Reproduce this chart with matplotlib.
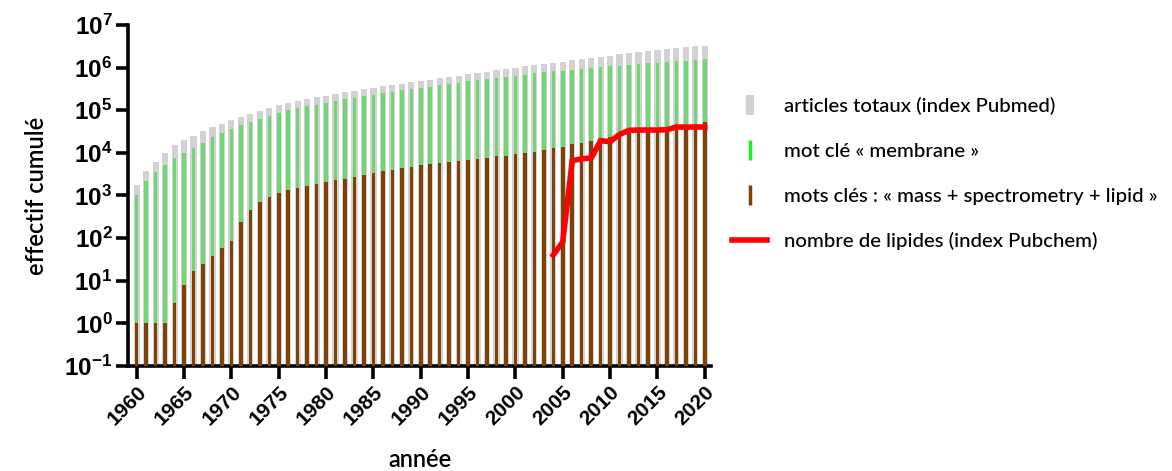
import matplotlib
matplotlib.use("Agg")
import matplotlib.pyplot as plt
from matplotlib.lines import Line2D
import numpy as np

years = list(range(1960, 2021))

total_pubmed = [1750, 3800, 6200, 9900, 15200, 20000, 24800, 32500, 39600, 48300,
                58900, 69200, 81400, 95800, 114600, 130000, 147500, 164400, 183200, 200400,
                219300, 239900, 262600, 287400, 309000, 332000, 363000, 391000, 420000, 459000,
                484000, 521000, 560000, 601000, 647000, 695000, 747000, 803000, 863000, 927000,
                996000, 1070000, 1130000, 1220000, 1310000, 1380000, 1480000, 1560000, 1680000, 1770000,
                1910000, 2050000, 2160000, 2280000, 2450000, 2590000, 2730000, 2880000, 2990000, 3160000,
                3270000]

membrane = [1020, 2180, 3480, 5170, 7550, 10100, 13200, 17300, 23100, 29700,
            36200, 45000, 52800, 63300, 74400, 86000, 99300, 110600, 123300, 134900,
            150300, 164400, 179900, 196800, 215300, 231700, 253500, 272300, 292400, 314600,
            332000, 357000, 391000, 420000, 443000, 476000, 512000, 550000, 581000, 613000,
            647000, 683000, 733000, 774000, 817000, 847000, 894000, 944000, 979000, 1030000,
            1070000, 1110000, 1170000, 1220000, 1260000, 1310000, 1350000, 1400000, 1450000, 1510000,
            1560000]

ms_lipid = [1, 1, 1, 1, 3, 8, 17, 25, 39, 60,
            85, 233, 463, 687, 933, 1140, 1340, 1520, 1690, 1880,
            2060, 2260, 2470, 2750, 3070, 3360, 3670, 4020, 4320, 4730,
            5080, 5360, 5660, 5970, 6310, 6780, 7150, 7690, 8260, 8570,
            9210, 9890, 10600, 11400, 12700, 13900, 15800, 17300, 18600, 20700,
            23100, 26200, 28600, 31300, 34300, 36900, 39600, 42600, 45700, 48300,
            51900]

lipid_years = list(range(2004, 2021))
lipid_count = [40, 82, 6530, 7280, 7550, 19300, 18200, 27100, 33700, 34300,
               34300, 34300, 34900, 40300, 40300, 40300, 40300]

xticks = list(range(1960, 2021, 5))
yticks = [1e-1, 1e0, 1e1, 1e2, 1e3, 1e4, 1e5, 1e6, 1e7]
ytick_labels = [r"$\mathbf{10^{-1}}$", r"$\mathbf{10^{0}}$", r"$\mathbf{10^{1}}$",
                r"$\mathbf{10^{2}}$", r"$\mathbf{10^{3}}$", r"$\mathbf{10^{4}}$",
                r"$\mathbf{10^{5}}$", r"$\mathbf{10^{6}}$", r"$\mathbf{10^{7}}$"]

legend_labels = ["articles totaux (index Pubmed)",
                 "mot clé « membrane »",
                 "mots clés : « mass + spectrometry + lipid »",
                 "nombre de lipides (index Pubchem)"]

c_grey = "#d2d2d4"
c_green = "#72d472"
c_brown = "#7e4106"
c_red = "#ff0000"

plt.rcParams["mathtext.fontset"] = "custom"
plt.rcParams["mathtext.bf"] = "Liberation Sans:bold"
plt.rcParams["mathtext.rm"] = "Liberation Sans"
plt.rcParams["axes.unicode_minus"] = False

fig = plt.figure(figsize=(11.72, 4.71), dpi=100)
ax = fig.add_axes([0.109, 0.223, 0.498, 0.724])

ax.bar(years, total_pubmed, width=0.65, color=c_grey, zorder=1)
ax.bar(years, membrane, width=0.37, color=c_green, zorder=2)
ax.bar(years, ms_lipid, width=0.37, color=c_brown, zorder=3)
ax.plot(lipid_years, lipid_count, color=c_red, linewidth=4, zorder=4,
        solid_joinstyle="miter")

ax.set_yscale("log")
ax.set_ylim(0.1, 1e7)
ax.set_xlim(1959.05, 2020.7)
ax.set_yticks(yticks)
ax.set_yticklabels(ytick_labels, fontsize=17.5)
ax.yaxis.set_minor_locator(matplotlib.ticker.NullLocator())
ax.set_xticks(xticks)
ax.set_xticklabels([str(x) for x in xticks], rotation=45, ha="right",
                   rotation_mode="anchor", fontsize=15, fontweight="bold",
                   family="Liberation Sans")

for s in ["top", "right"]:
    ax.spines[s].set_visible(False)
for s in ["left", "bottom"]:
    ax.spines[s].set_linewidth(2.6)
ax.tick_params(axis="both", which="major", length=9, width=2.6, direction="out")
ax.tick_params(axis="y", pad=2)
ax.tick_params(axis="x", pad=3)

ax.set_ylabel("effectif cumulé", fontsize=17, family="Lato", fontweight="semibold", labelpad=12)
ax.set_xlabel("année", fontsize=17, family="Lato", fontweight="semibold", labelpad=14)

handles = [
    Line2D([], [], color=c_grey, marker="|", linestyle="none", markersize=14, markeredgewidth=6),
    Line2D([], [], color="#22ee22", marker="|", linestyle="none", markersize=14, markeredgewidth=2.5),
    Line2D([], [], color=c_brown, marker="|", linestyle="none", markersize=14, markeredgewidth=2.5),
    Line2D([], [], color=c_red, linewidth=4),
]
leg = fig.legend(handles, legend_labels, loc="upper left", bbox_to_anchor=(0.6086, 0.832),
                 frameon=False, prop={"family": "Lato", "size": 14.7, "weight": "medium"},
                 handlelength=1.75, labelspacing=1.34, handletextpad=0.8)

fig.savefig("out.png", dpi=100)
